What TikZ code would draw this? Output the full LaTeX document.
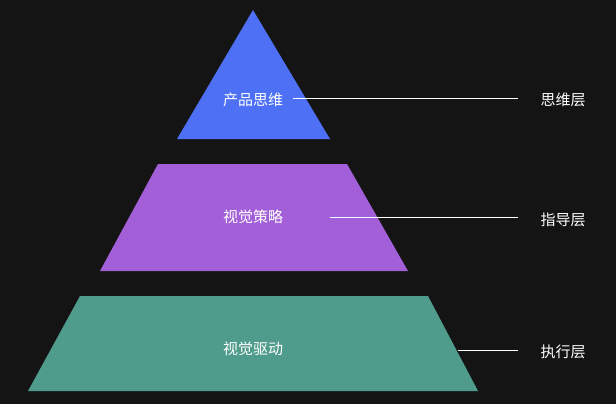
\documentclass[tikz,border=0pt]{standalone}
\usepackage{fontspec}
\newfontfamily\cjk{Noto Sans CJK SC}
\begin{document}
\begin{tikzpicture}[x=1pt,y=-1pt,
  lbl/.style={text=white,font=\cjk\fontsize{15}{18}\selectfont},
  conn/.style={draw=white,line width=1pt}]
\fill[fill={rgb,255:red,20;green,20;blue,20}] (0,0) rectangle (616,404);
\useasboundingbox (0,0) rectangle (616,404);
\fill[fill={rgb,255:red,77;green,112;blue,245}] (253,10) -- (330,139) -- (177,139) -- cycle;
\fill[fill={rgb,255:red,163;green,95;blue,216}] (158,164) -- (347,164) -- (408,271) -- (100,271) -- cycle;
\fill[fill={rgb,255:red,80;green,156;blue,140}] (80,296) -- (428,296) -- (478,391) -- (28,391) -- cycle;
\node[lbl] (a) at (253,100) {产品思维};
\node[lbl] (b) at (253,217) {视觉策略};
\node[lbl] (c) at (253,349) {视觉驱动};
\node[lbl] (la) at (563,100) {思维层};
\node[lbl] (lb) at (563,220) {指导层};
\node[lbl] (lc) at (563,352) {执行层};
\coordinate (a1) at (293,98); \coordinate (a2) at (518,98);
\coordinate (b1) at (330,217); \coordinate (b2) at (518,217);
\coordinate (c1) at (458,350); \coordinate (c2) at (518,350);
\draw[conn] (a1) -- (a2);
\draw[conn] (b1) -- (b2);
\draw[conn] (c1) -- (c2);
\end{tikzpicture}
\end{document}
